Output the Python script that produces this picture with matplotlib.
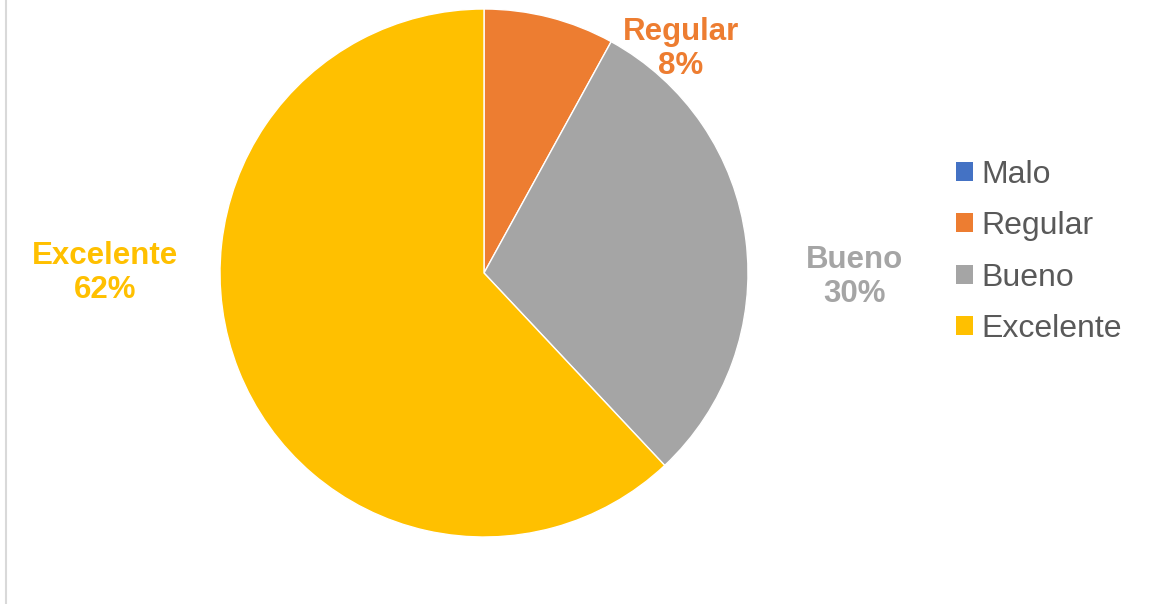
import matplotlib.pyplot as plt
from matplotlib.patches import Patch
from matplotlib.lines import Line2D

categorias = ["Malo", "Regular", "Bueno", "Excelente"]
valores = [0, 8, 30, 62]
colores = ["#4472C4", "#ED7D31", "#A5A5A5", "#FFC000"]

# posiciones de etiquetas (unidades del radio)
pos_etiquetas = {"Regular": (0.745, 0.85), "Bueno": (1.405, -0.015), "Excelente": (-1.435, 0.0)}

plt.rcParams['font.family'] = ['Liberation Sans', 'DejaVu Sans']

W, H = 1167, 604
fig = plt.figure(figsize=(W / 100, H / 100), dpi=100)

cx, cy, r = 484, 273, 264
ax = fig.add_axes([(cx - r) / W, (H - cy - r) / H, 2 * r / W, 2 * r / H])
ax.pie(valores, colors=colores, startangle=90, counterclock=False, radius=1,
       wedgeprops=dict(edgecolor="white", linewidth=1))
ax.set_xlim(-1, 1)
ax.set_ylim(-1, 1)
ax.set_aspect("equal")
ax.axis("off")

for cat, val, col in zip(categorias, valores, colores):
    if cat in pos_etiquetas:
        x, y = pos_etiquetas[cat]
        ax.text(x, y, f"{cat}\n{val}%", color=col, fontsize=22.5, fontweight="bold",
                ha="center", va="center", linespacing=1.18, clip_on=False)

# borde izquierdo del marco
fig.add_artist(Line2D([5.5 / W, 5.5 / W], [0, 1], color="#D9D9D9", linewidth=1.5,
                      transform=fig.transFigure))

handles = [Patch(facecolor=c, edgecolor="none") for c in colores]
leg = fig.legend(handles, categorias, loc="upper left", bbox_to_anchor=(927 / W, 1 - 131 / H),
                 frameon=False, fontsize=23, handlelength=0.55, handleheight=0.55,
                 handletextpad=0.25, labelspacing=0.67, labelcolor="#595959")

fig.savefig("out.png", dpi=100, facecolor="white")
